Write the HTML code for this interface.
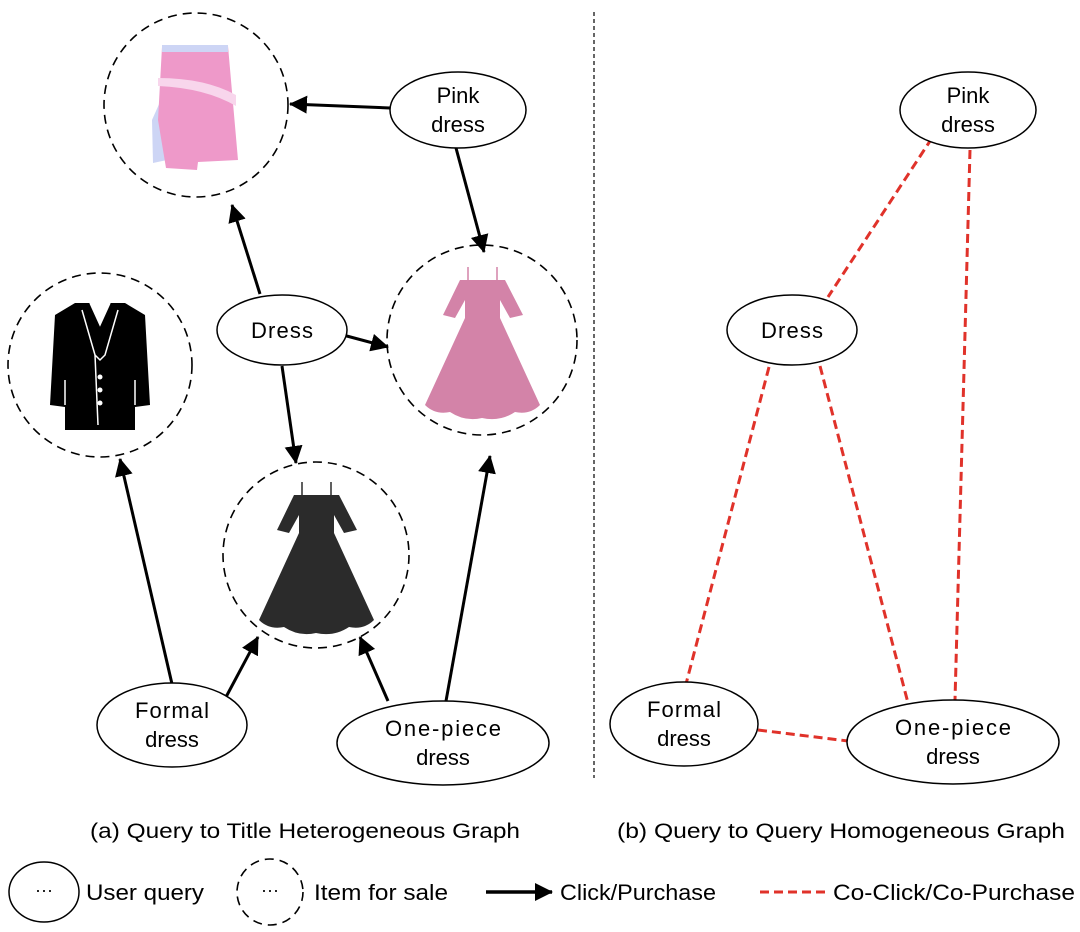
<!DOCTYPE html>
<html><head><meta charset="utf-8"><style>
html,body{margin:0;padding:0;background:#fff;}
svg{display:block;font-family:"Liberation Sans",sans-serif;}
</style></head><body>
<svg width="1080" height="932" viewBox="0 0 1080 932" xmlns="http://www.w3.org/2000/svg">
<defs>
<marker id="ahb" markerWidth="18" markerHeight="18" refX="17" refY="9" orient="auto" markerUnits="userSpaceOnUse" viewBox="0 0 18 18">
<path d="M0,0 L18,9 L0,18 Z" fill="#000"/>
</marker>
<path id="dress" d="M460,280 L505,280 L523,315 L510,318 L500,300 L500,318 L540,405 Q530,415 515,412 Q500,422 482,418 Q465,422 450,412 Q435,415 425,405 L465,318 L465,300 L455,318 L443,315 Z"/>
</defs>

<line x1="594" y1="12" x2="594" y2="778" stroke="#000" stroke-width="1.2" stroke-dasharray="4,3"/>

<g fill="none" stroke="#000" stroke-width="1.6" stroke-dasharray="9,6">
<circle cx="196" cy="105" r="92"/>
<circle cx="100" cy="365" r="92"/>
<circle cx="482" cy="340" r="95"/>
<circle cx="316" cy="555" r="93"/>
</g>

<polygon points="160,102 172,101 167,160 153,163 152,120" fill="#cdd5f5"/>
<path d="M162,47 L228,46 L238,160 L198,162 L197,170 L166,168 L158,120 Z" fill="#ee99c9"/>
<rect x="162" y="45" width="66" height="7" fill="#cdd5f5"/>
<path d="M158,78 Q205,78 236,95 L236,106 Q205,88 158,86 Z" fill="#f8d6ec"/>

<g transform="translate(100,365)">
<path d="M-25,-62 L-10,-62 L0,-40 L10,-62 L25,-62 L45,-50 L50,40 L35,42 L35,65 L-35,65 L-35,42 L-50,40 L-45,-50 Z" fill="#000"/>
<path d="M-10,-62 L0,-40 L10,-62 M-18,-55 L-5,-10 L0,-5 L5,-10 L18,-55 M-5,-10 L-2,60 M-35,40 L-35,15 M35,40 L35,15" stroke="#fff" stroke-width="1.5" fill="none"/>
<circle cx="0" cy="12" r="2.5" fill="#fff"/><circle cx="0" cy="25" r="2.5" fill="#fff"/><circle cx="0" cy="38" r="2.5" fill="#fff"/>
</g>

<line x1="468" y1="267" x2="468" y2="281" stroke="#d383a8" stroke-width="1.5"/>
<line x1="497" y1="267" x2="497" y2="281" stroke="#d383a8" stroke-width="1.5"/>
<use href="#dress" fill="#d383a8"/>
<g transform="translate(-166,215)">
<line x1="468" y1="267" x2="468" y2="281" stroke="#2b2b2b" stroke-width="1.5"/>
<line x1="497" y1="267" x2="497" y2="281" stroke="#2b2b2b" stroke-width="1.5"/>
<use href="#dress" fill="#2b2b2b"/>
</g>

<g stroke="#000" stroke-width="3" marker-end="url(#ahb)">
<line x1="390" y1="108" x2="290" y2="104"/>
<line x1="456" y1="148" x2="484" y2="252"/>
<line x1="260" y1="294" x2="232" y2="205"/>
<line x1="343" y1="335" x2="388" y2="347"/>
<line x1="282" y1="366" x2="296" y2="463"/>
<line x1="172" y1="684" x2="120" y2="459"/>
<line x1="226" y1="697" x2="258" y2="637"/>
<line x1="388" y1="701" x2="360" y2="637"/>
<line x1="446" y1="701" x2="490" y2="456"/>
</g>

<g stroke="#e0322a" stroke-width="3" stroke-dasharray="9,5">
<line x1="932" y1="138" x2="828" y2="297"/>
<line x1="970" y1="150" x2="955" y2="700"/>
<line x1="769" y1="367" x2="686" y2="684"/>
<line x1="820" y1="366" x2="908" y2="703"/>
<line x1="758" y1="730" x2="848" y2="741"/>
</g>

<g fill="#fff" stroke="#000" stroke-width="1.5">
<ellipse cx="458" cy="110" rx="68" ry="38"/>
<ellipse cx="282" cy="330" rx="65" ry="35"/>
<ellipse cx="172" cy="725" rx="75" ry="42"/>
<ellipse cx="443" cy="743" rx="106" ry="42"/>
<ellipse cx="968" cy="110" rx="68" ry="38"/>
<ellipse cx="792" cy="330" rx="65" ry="35"/>
<ellipse cx="684" cy="724" rx="74" ry="42"/>
<ellipse cx="953" cy="742" rx="106" ry="42"/>
</g>

<g font-size="22" text-anchor="middle" fill="#000">
<text x="458" y="103">Pink</text><text x="458" y="132">dress</text>
<text x="282" y="338" textLength="62">Dress</text>
<text x="172" y="718" textLength="74">Formal</text><text x="172" y="747">dress</text>
<text x="443" y="736" textLength="116">One-piece</text><text x="443" y="765">dress</text>
<text x="968" y="103">Pink</text><text x="968" y="132">dress</text>
<text x="792" y="338" textLength="62">Dress</text>
<text x="684" y="717" textLength="74">Formal</text><text x="684" y="746">dress</text>
<text x="953" y="735" textLength="116">One-piece</text><text x="953" y="764">dress</text>
</g>
<g font-size="21" fill="#000">
<text x="90" y="838" textLength="430" lengthAdjust="spacingAndGlyphs">(a) Query to Title Heterogeneous Graph</text>
<text x="617" y="838" textLength="448" lengthAdjust="spacingAndGlyphs">(b) Query to Query Homogeneous Graph</text>
</g>

<ellipse cx="44" cy="892" rx="35" ry="30" fill="none" stroke="#000" stroke-width="1.5"/>
<text x="44" y="896" font-size="18" text-anchor="middle">···</text>
<text x="86" y="900" font-size="22" textLength="118" lengthAdjust="spacingAndGlyphs">User query</text>
<circle cx="270" cy="892" r="33" fill="none" stroke="#000" stroke-width="1.6" stroke-dasharray="9,6"/>
<text x="270" y="896" font-size="18" text-anchor="middle">···</text>
<text x="314" y="900" font-size="22" textLength="134" lengthAdjust="spacingAndGlyphs">Item for sale</text>
<line x1="486" y1="892" x2="552" y2="892" stroke="#000" stroke-width="3.5" marker-end="url(#ahb)"/>
<text x="560" y="900" font-size="22" textLength="156" lengthAdjust="spacingAndGlyphs">Click/Purchase</text>
<line x1="760" y1="892" x2="826" y2="892" stroke="#e0322a" stroke-width="3" stroke-dasharray="9,5"/>
<text x="833" y="900" font-size="22" textLength="242" lengthAdjust="spacingAndGlyphs">Co-Click/Co-Purchase</text>
</svg>
</body></html>
